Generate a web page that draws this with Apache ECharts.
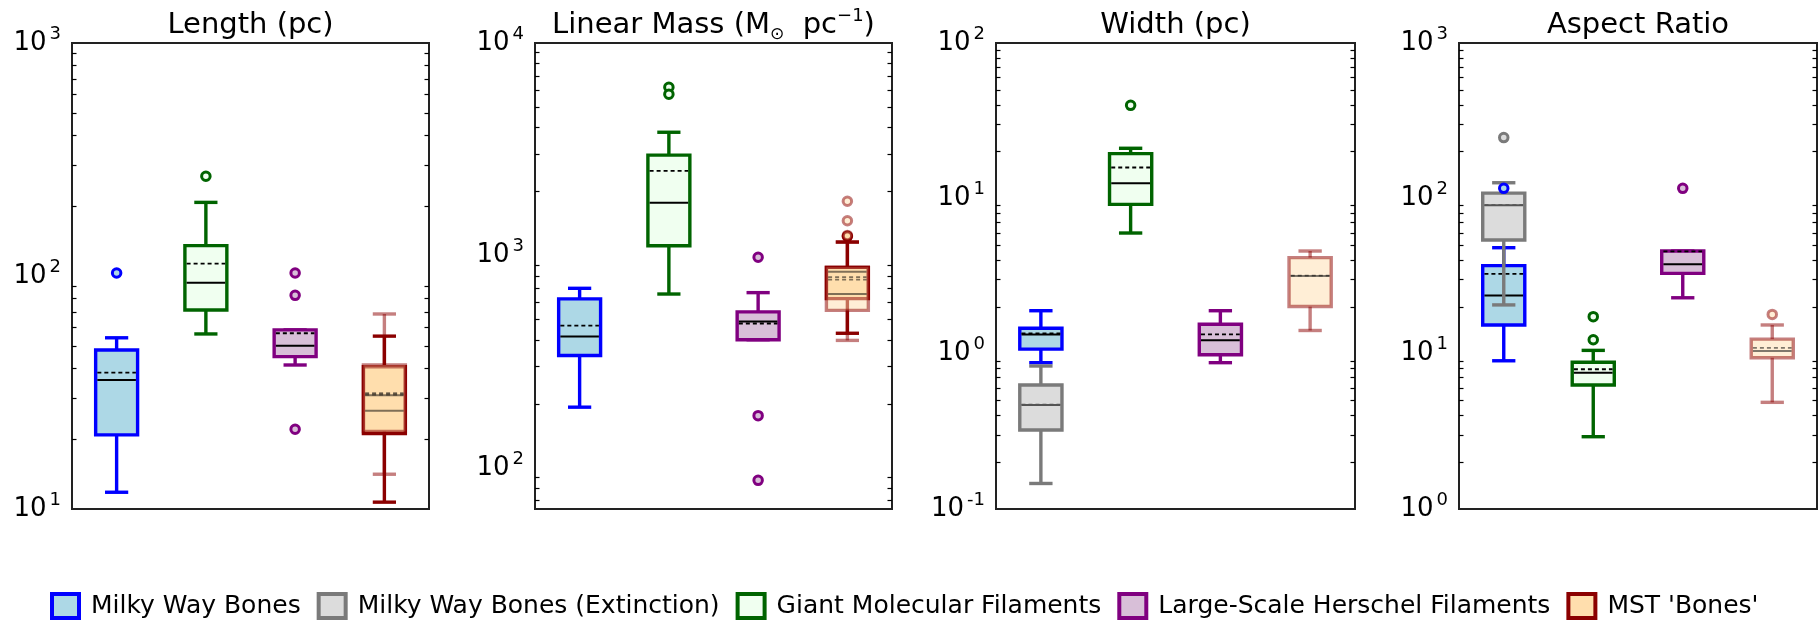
<!DOCTYPE html>
<html>
<head>
    <meta charset="utf-8">
    <title>Filament properties</title>
    <style>
        html, body { margin: 0; padding: 0; background: #fff; }
    </style>
</head>
<body>
<div id="main" style="width: 1818px;height:624px;"></div>

<script src="https://cdn.jsdelivr.net/npm/echarts@6.0.0/dist/echarts.min.js"></script>
<script>
    // box stats: [whisker low, Q1, median, Q3, whisker high, mean]
    var categories = ['MWB', 'GMF', 'LSHF', 'MST'];
    var seriesNames = ['Milky Way Bones', 'Milky Way Bones (Extinction)', 'Giant Molecular Filaments',
        'Large-Scale Herschel Filaments', "MST 'Bones'"];
    var panelTitles = ['Length (pc)', 'Linear Mass (M{sub|⊙}  pc{sup|−1})', 'Width (pc)', 'Aspect Ratio'];
    var panelMin = [10, 64, 0.1, 1];
    var panelMax = [1000, 10000, 100, 1000];

    // Length (pc)
    var lengthMWB = [11.8, 20.8, 35.8, 48.1, 54.3, 38.5];
    var lengthMWBOut = [103];
    var lengthGMF = [56.4, 71.5, 93.6, 135, 207, 113];
    var lengthGMFOut = [268];
    var lengthLSHF = [41.5, 45.1, 50.2, 58.7, 58.7, 56.8];
    var lengthLSHFOut = [103, 82.6, 22.0];
    var lengthMST = [10.7, 21.1, 30.8, 40.8, 55.2, 31.4];
    var lengthMSTAll = [14.1, 21.5, 26.4, 41.5, 68.7, 31.0];

    // Linear mass
    var massMWB = [193, 338, 415, 624, 700, 467];
    var massGMF = [658, 1111, 1770, 2965, 3800, 2500];
    var massGMFOut = [6190, 5740];
    var massLSHF = [401, 401, 488, 542, 668, 478];
    var massLSHFOut = [980, 176, 87.3];
    var massMST = [430, 626, 838, 878, 1156, 791];
    var massMSTOut = [1230];
    var massMSTAll = [398, 551, 658, 880, 1156, 770];
    var massMSTAllOut = [1800, 1457, 1242];

    // Width (pc)
    var widthMWB = [0.875, 1.07, 1.33, 1.456, 1.89, 1.35];
    var widthExt = [0.146, 0.3225, 0.467, 0.629, 0.833, 0.47];
    var widthGMF = [5.98, 9.15, 12.5, 19.4, 21.0, 15.8];
    var widthGMFOut = [39.7];
    var widthLSHF = [0.875, 0.985, 1.22, 1.545, 1.89, 1.33];
    var widthMSTAll = [1.41, 2.01, 3.16, 4.15, 4.58, 3.18];

    // Aspect ratio
    var ratioMWB = [9.0, 15.3, 23.7, 36.9, 48.1, 32.6];
    var ratioMWBOut = [116];
    var ratioExt = [20.6, 53.9, 90.2, 108, 126, 90.5];
    var ratioExtOut = [246];
    var ratioGMF = [2.92, 6.29, 7.54, 8.8, 10.5, 7.94];
    var ratioGMFOut = [17.3, 12.3];
    var ratioLSHF = [22.9, 32.9, 37.6, 45.8, 45.8, 45.5];
    var ratioLSHFOut = [116];
    var ratioMSTAll = [4.86, 9.42, 10.4, 12.4, 15.3, 10.9];
    var ratioMSTAllOut = [17.9];

    // looks of each group
    var styles = {
        mwb: {name: seriesNames[0], cat: 0, border: '#0000ff', fill: '#add8e6', line: '#000', opacity: 1},
        ext: {name: seriesNames[1], cat: 0, border: '#7a7a7a', fill: '#dcdcdc', line: '#555', opacity: 1},
        gmf: {name: seriesNames[2], cat: 1, border: '#006400', fill: '#f0fff0', line: '#000', opacity: 1},
        lshf: {name: seriesNames[3], cat: 2, border: '#800080', fill: '#d8bfd8', line: '#000', opacity: 1},
        mst: {name: seriesNames[4], cat: 3, border: '#8b0000', fill: '#ffdead', line: '#000', opacity: 1},
        mstAll: {name: seriesNames[4], cat: 3, border: '#8b0000', fill: '#ffdead', line: '#000', opacity: 0.5}
    };

    var panelGroups = [
        [['mwb', lengthMWB, lengthMWBOut], ['gmf', lengthGMF, lengthGMFOut], ['lshf', lengthLSHF, lengthLSHFOut],
            ['mst', lengthMST, []], ['mstAll', lengthMSTAll, []]],
        [['mwb', massMWB, []], ['gmf', massGMF, massGMFOut], ['lshf', massLSHF, massLSHFOut],
            ['mst', massMST, massMSTOut], ['mstAll', massMSTAll, massMSTAllOut]],
        [['mwb', widthMWB, []], ['ext', widthExt, []], ['gmf', widthGMF, widthGMFOut], ['lshf', widthLSHF, []],
            ['mstAll', widthMSTAll, []]],
        [['mwb', ratioMWB, ratioMWBOut], ['ext', ratioExt, ratioExtOut], ['gmf', ratioGMF, ratioGMFOut],
            ['lshf', ratioLSHF, ratioLSHFOut], ['mstAll', ratioMSTAll, ratioMSTAllOut]]
    ];

    var gridLeft = [72, 535, 996, 1459];
    var gridWidth = [357, 357, 359, 358];
    var font = 'DejaVu Sans';

    function makeBoxRender(st) {
        return function (params, api) {
            var cat = api.value(0);
            var lo = api.coord([cat, api.value(1)]);
            var q1 = api.coord([cat, api.value(2)]);
            var med = api.coord([cat, api.value(3)]);
            var q3 = api.coord([cat, api.value(4)]);
            var hi = api.coord([cat, api.value(5)]);
            var mean = api.coord([cat, api.value(6)]);
            var band = api.size([1, 0])[0];
            var cx = lo[0], bw = band * 0.47, cw = band * 0.26;
            var op = st.opacity;
            function seg(x1, y1, x2, y2, color, w, dash) {
                return {type: 'line', shape: {x1: x1, y1: y1, x2: x2, y2: y2},
                    style: {stroke: color, lineWidth: w, lineDash: dash || null, opacity: op}};
            }
            return {
                type: 'group',
                children: [
                    seg(cx, q3[1], cx, hi[1], st.border, 3.4),
                    seg(cx, q1[1], cx, lo[1], st.border, 3.4),
                    seg(cx - cw / 2, hi[1], cx + cw / 2, hi[1], st.border, 3.4),
                    seg(cx - cw / 2, lo[1], cx + cw / 2, lo[1], st.border, 3.4),
                    {type: 'rect', shape: {x: cx - bw / 2, y: q3[1], width: bw, height: q1[1] - q3[1]},
                        style: {fill: st.fill, stroke: st.border, lineWidth: 3.4, opacity: op}},
                    seg(cx - bw / 2 + 1.7, med[1], cx + bw / 2 - 1.7, med[1], st.line, 2),
                    seg(cx - bw / 2 + 1.7, mean[1], cx + bw / 2 - 1.7, mean[1], st.line, 1.8, [4, 3])
                ]
            };
        };
    }

    function powerLabel(v) {
        var e = Math.log(v) / Math.LN10;
        var r = Math.round(e);
        if (Math.abs(e - r) > 1e-6) {
            return '';
        }
        return '{b|10}{s|' + r + '}';
    }

    var tickStyle = {color: '#000', width: 1.5};
    var grids = [], xAxes = [], yAxes = [], titles = [], series = [];

    for (var i = 0; i < 4; i++) {
        grids.push({left: gridLeft[i], width: gridWidth[i], top: 43, height: 466,
            show: true, borderColor: '#222', borderWidth: 2});
        titles.push({
            text: panelTitles[i], left: gridLeft[i] + gridWidth[i] / 2, top: 7, padding: 0, textAlign: 'center',
            textStyle: {
                fontSize: 29, fontWeight: 'normal', fontFamily: font, color: '#000', lineHeight: 36,
                rich: {
                    sub: {fontSize: 17, fontFamily: font, color: '#000', lineHeight: 18, verticalAlign: 'bottom'},
                    sup: {fontSize: 18, fontFamily: font, color: '#000', lineHeight: 26, verticalAlign: 'top'}
                }
            }
        });
        ['bottom', 'top'].forEach(function (pos) {
            xAxes.push({
                gridIndex: i, type: 'category', data: categories, position: pos,
                axisLine: {show: false},
                axisTick: {inside: true, alignWithLabel: true, length: 7, lineStyle: tickStyle},
                axisLabel: {show: false},
                splitLine: {show: false}
            });
        });
        ['left', 'right'].forEach(function (pos) {
            yAxes.push({
                gridIndex: i, type: 'log', logBase: 10, min: panelMin[i], max: panelMax[i], position: pos,
                axisLine: {show: false},
                axisTick: {inside: true, length: 8, lineStyle: tickStyle},
                minorTick: {show: true, splitNumber: 9, length: 4.5, lineStyle: {color: '#000', width: 1.2}},
                splitLine: {show: false},
                minorSplitLine: {show: false},
                axisLabel: {
                    show: pos === 'left', margin: 11, formatter: powerLabel,
                    rich: {
                        b: {fontSize: 26, fontFamily: font, color: '#000', lineHeight: 36},
                        s: {fontSize: 18, fontFamily: font, color: '#000', lineHeight: 20,
                            verticalAlign: 'top', padding: [0, 0, 0, 3]}
                    }
                }
            });
        });

        panelGroups[i].forEach(function (g) {
            var st = styles[g[0]];
            series.push({
                type: 'custom', name: st.name, xAxisIndex: i * 2, yAxisIndex: i * 2,
                renderItem: makeBoxRender(st),
                encode: {x: 0, y: [1, 2, 3, 4, 5, 6]},
                data: [[st.cat].concat(g[1])],
                itemStyle: {color: st.fill, borderColor: st.border},
                silent: true
            });
            if (g[2].length) {
                series.push({
                    type: 'scatter', name: st.name, xAxisIndex: i * 2, yAxisIndex: i * 2,
                    symbol: 'circle', symbolSize: 8.5,
                    data: g[2].map(function (v) { return [st.cat, v]; }),
                    itemStyle: {color: st.fill, borderColor: st.border, borderWidth: 3, opacity: st.opacity},
                    silent: true
                });
            }
        });
    }

    var legendKeys = ['mwb', 'ext', 'gmf', 'lshf', 'mst'];

    var myChart = echarts.init(document.getElementById('main'));
    myChart.setOption({
        animation: false,
        backgroundColor: '#fff',
        title: titles,
        grid: grids,
        xAxis: xAxes,
        yAxis: yAxes,
        legend: {
            left: 50, top: 592, width: 1766, padding: 0, icon: 'rect', itemWidth: 27, itemHeight: 24, itemGap: 16,
            selectedMode: false,
            textStyle: {fontSize: 25, fontFamily: font, color: '#000', padding: [0, 0, 0, 7]},
            data: legendKeys.map(function (k) {
                var st = styles[k];
                return {name: st.name, itemStyle: {color: st.fill, borderColor: st.border, borderWidth: 4}};
            })
        },
        series: series
    });
</script>
</body>
</html>
